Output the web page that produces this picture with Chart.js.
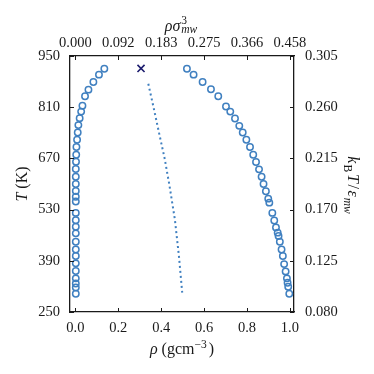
<!DOCTYPE html>
<html>
<head>
<meta charset="utf-8">
<script src="https://cdn.jsdelivr.net/npm/chart.js@4.4.1/dist/chart.umd.min.js"></script>
<style>
  html, body { margin: 0; padding: 0; background: #fff; }
  #wrap { width: 374px; height: 374px; }
</style>
</head>
<body>
<div id="wrap"><canvas id="myChart" width="374" height="374"></canvas></div>
<script>
// vapour branch (rho in g/cm3, T in K)
const vaporT   = [915, 899, 879, 858, 840, 814, 798, 780, 761, 741, 721, 701, 680, 661, 641, 620, 600, 581, 565, 552, 521, 501, 483, 465, 442, 421, 403, 383, 362, 342, 328, 317, 300];
const vaporRho = [0.135, 0.110, 0.084, 0.061, 0.045, 0.033, 0.027, 0.020, 0.014, 0.011, 0.008, 0.005, 0.004, 0.003, 0.002, 0.002, 0.002, 0.002, 0.002, 0.002, 0.002, 0.002, 0.002, 0.002, 0.002, 0.002, 0.002, 0.002, 0.002, 0.002, 0.002, 0.002, 0.002];

// liquid branch
const liquidT   = [915, 899, 879, 859, 840, 812, 798, 779, 759, 741, 721, 701, 680, 660, 640, 620, 600, 580, 560, 549, 521, 500, 481, 467, 458, 442, 421, 403, 381, 361, 342, 330, 319, 300];
const liquidRho = [0.520, 0.551, 0.593, 0.632, 0.666, 0.702, 0.722, 0.744, 0.764, 0.780, 0.797, 0.814, 0.829, 0.842, 0.856, 0.868, 0.877, 0.888, 0.899, 0.904, 0.918, 0.927, 0.935, 0.943, 0.947, 0.953, 0.961, 0.967, 0.973, 0.980, 0.986, 0.989, 0.992, 0.997];

// rectilinear diameter (dotted)
const diamT   = [874, 800, 737, 670, 598, 502, 401, 303];
const diamRho = [0.340, 0.368, 0.391, 0.416, 0.438, 0.464, 0.483, 0.498];

// critical point
const critT   = [916];
const critRho = [0.306];

// ticks
const xTicks = [0.0, 0.2, 0.4, 0.6, 0.8, 1.0];
const topTickLabels = ['0.000', '0.092', '0.183', '0.275', '0.366', '0.458'];
const yTicks = [250, 390, 530, 670, 810, 950];
const rightTickLabels = ['0.080', '0.125', '0.170', '0.215', '0.260', '0.305'];

const FONT = '"Liberation Serif", "DejaVu Serif", serif';
const INK = '#1a1a1a';
const BLUE = '#4080c0';

function toPts(xs, ys) {
  return xs.map((x, i) => ({ x: x, y: ys[i] }));
}

function fontStr(it, size) {
  return (it ? 'italic ' : '') + size + 'px ' + FONT;
}

// draw text with sub/superscripts, centred on x=0 at baseline y=0
function drawRich(ctx, parts, size, supDy, subDy) {
  const small = size * 0.72;
  const gap = 2;
  let total = 0;
  const widths = parts.map(p => {
    ctx.font = fontStr(p.it, size);
    const w = ctx.measureText(p.t).width + (p.pad || 0);
    let sw = 0;
    if (p.sup) { ctx.font = fontStr(p.supIt, small); sw = Math.max(sw, ctx.measureText(p.sup).width); }
    if (p.sub) { ctx.font = fontStr(p.subIt, small); sw = Math.max(sw, ctx.measureText(p.sub).width); }
    const lead = (p.it && sw) ? 1 : 0;
    const extra = sw ? sw + gap + lead : 0;
    total += w + extra;
    return { w: w, lead: lead, extra: extra };
  });
  let x = -total / 2;
  ctx.textBaseline = 'alphabetic';
  ctx.textAlign = 'left';
  parts.forEach((p, i) => {
    ctx.font = fontStr(p.it, size);
    ctx.fillText(p.t, x + (p.pad || 0) / 2, 0);
    const sx = x + widths[i].w + widths[i].lead;
    if (p.sup) { ctx.font = fontStr(p.supIt, small); ctx.fillText(p.sup, sx, supDy); }
    if (p.sub) { ctx.font = fontStr(p.subIt, small); ctx.fillText(p.sub, sx, subDy); }
    x += widths[i].w + widths[i].extra;
  });
}

const axisTitles = {
  id: 'axisTitles',
  afterDraw(chart) {
    const ctx = chart.ctx;
    const a = chart.chartArea;
    const cx = (a.left + a.right) / 2;
    const cy = (a.top + a.bottom) / 2;
    const size = 16;
    ctx.save();
    ctx.fillStyle = INK;

    // bottom
    ctx.save();
    ctx.translate(cx, 354);
    drawRich(ctx, [
      { t: 'ρ', it: true },
      { t: ' (gcm', it: false, sup: '−3', supIt: false },
      { t: ')', it: false }
    ], size, -6.5, 3);
    ctx.restore();

    // top
    ctx.save();
    ctx.translate(cx, 31);
    drawRich(ctx, [
      { t: 'ρσ', it: true, sup: '3', supIt: false, sub: 'mw', subIt: true }
    ], size, -7, 2);
    ctx.restore();

    // left
    ctx.save();
    ctx.translate(27, cy);
    ctx.rotate(-Math.PI / 2);
    drawRich(ctx, [
      { t: 'T', it: true },
      { t: ' (K)', it: false }
    ], size, -6, 3);
    ctx.restore();

    // right
    ctx.save();
    ctx.translate(348, cy + 2);
    ctx.rotate(Math.PI / 2);
    drawRich(ctx, [
      { t: 'k', it: true, sub: 'B', subIt: false },
      { t: 'T', it: true },
      { t: '/', it: false, pad: 3 },
      { t: 'ε', it: true, sub: 'mw', subIt: true }
    ], size, -6, 4);
    ctx.restore();

    ctx.restore();
  }
};

const inwardTicks = {
  id: 'inwardTicks',
  afterDatasetsDraw(chart) {
    const ctx = chart.ctx, a = chart.chartArea, len = 4;
    ctx.save();
    ctx.strokeStyle = INK;
    ctx.lineWidth = 1;
    ctx.beginPath();
    xTicks.forEach(v => {
      const px = Math.round(chart.scales.x.getPixelForValue(v)) + 0.5;
      ctx.moveTo(px, a.bottom); ctx.lineTo(px, a.bottom - len);
      ctx.moveTo(px, a.top); ctx.lineTo(px, a.top + len);
    });
    yTicks.forEach(v => {
      const py = Math.round(chart.scales.y.getPixelForValue(v)) + 0.5;
      ctx.moveTo(a.left, py); ctx.lineTo(a.left + len, py);
      ctx.moveTo(a.right, py); ctx.lineTo(a.right - len, py);
    });
    ctx.stroke();
    ctx.restore();
  }
};

function fixedTicks(values) {
  return function (scale) {
    scale.ticks = values.map(v => ({ value: v }));
  };
}

const tickFont = { family: FONT, size: 14.5 };
const noGrid = { display: true, drawOnChartArea: false, drawTicks: false };
const frame = { display: true, color: INK, width: 1.3 };

const ctx = document.getElementById('myChart').getContext('2d');
const myChart = new Chart(ctx, {
  type: 'scatter',
  data: {
    datasets: [
      {
        label: 'vapour',
        data: toPts(vaporRho, vaporT),
        pointStyle: 'circle',
        pointRadius: 3.2,
        pointBorderWidth: 1.5,
        borderColor: BLUE,
        backgroundColor: 'rgba(0,0,0,0)',
        showLine: false
      },
      {
        label: 'liquid',
        data: toPts(liquidRho, liquidT),
        pointStyle: 'circle',
        pointRadius: 3.2,
        pointBorderWidth: 1.5,
        borderColor: BLUE,
        backgroundColor: 'rgba(0,0,0,0)',
        showLine: false
      },
      {
        label: 'diameter',
        data: toPts(diamRho, diamT),
        showLine: true,
        pointRadius: 0,
        borderColor: BLUE,
        borderWidth: 2,
        borderDash: [2, 3],
        tension: 0
      },
      {
        label: 'critical',
        data: toPts(critRho, critT),
        pointStyle: 'crossRot',
        pointRadius: 5,
        pointBorderWidth: 1.6,
        borderColor: '#1c1c6e',
        backgroundColor: '#1c1c6e',
        showLine: false
      }
    ]
  },
  options: {
    responsive: false,
    animation: false,
    layout: { padding: 0 },
    plugins: {
      legend: { display: false },
      tooltip: { enabled: false }
    },
    scales: {
      x: {
        type: 'linear',
        position: 'bottom',
        min: -0.025,
        max: 1.019,
        afterBuildTicks: fixedTicks(xTicks),
        afterFit: s => { s.height = 62; },
        grid: noGrid,
        border: frame,
        ticks: {
          font: tickFont, color: INK, padding: 7, maxRotation: 0, autoSkip: false,
          callback: v => v.toFixed(1)
        }
      },
      x2: {
        type: 'linear',
        position: 'top',
        min: -0.025,
        max: 1.019,
        afterBuildTicks: fixedTicks(xTicks),
        afterFit: s => { s.height = 56; },
        grid: noGrid,
        border: frame,
        ticks: {
          font: tickFont, color: INK, padding: 4, maxRotation: 0, autoSkip: false,
          callback: (v, i) => topTickLabels[i]
        }
      },
      y: {
        type: 'linear',
        position: 'left',
        min: 250,
        max: 950,
        afterBuildTicks: fixedTicks(yTicks),
        afterFit: s => { s.width = 70; },
        grid: noGrid,
        border: frame,
        ticks: {
          font: tickFont, color: INK, padding: 10, autoSkip: false,
          callback: v => String(v)
        }
      },
      y2: {
        type: 'linear',
        position: 'right',
        min: 250,
        max: 950,
        afterBuildTicks: fixedTicks(yTicks),
        afterFit: s => { s.width = 80; },
        grid: noGrid,
        border: frame,
        ticks: {
          font: tickFont, color: INK, padding: 11, autoSkip: false,
          callback: (v, i) => rightTickLabels[i]
        }
      }
    }
  },
  plugins: [inwardTicks, axisTitles]
});
</script>
</body>
</html>
